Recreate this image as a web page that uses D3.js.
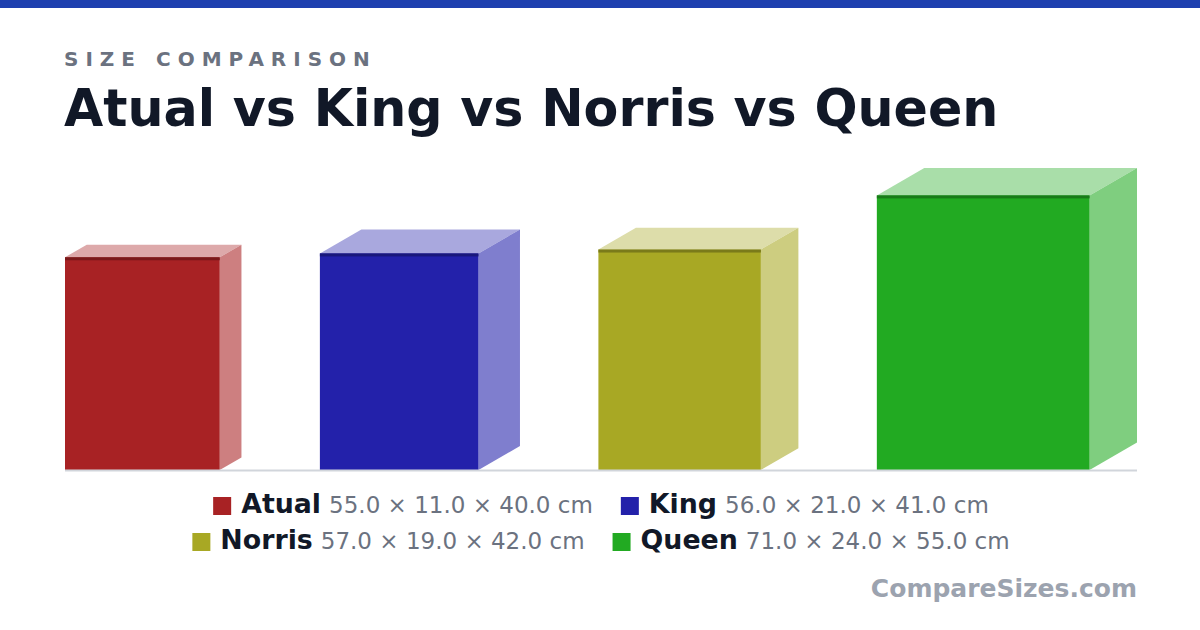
<!DOCTYPE html>
<html>
<head>
<meta charset="utf-8">
<script src="https://cdn.jsdelivr.net/npm/d3@7"></script>
<style>
  html, body { margin: 0; padding: 0; background: #fff; }
  svg { display: block; font-family: "DejaVu Sans", sans-serif; }
</style>
</head>
<body>
<div id="chart"></div>
<script>
// sizes in cm, as listed: height × depth × width
const names = ["Atual", "King", "Norris", "Queen"];
const heights = [55, 56, 57, 71];
const depths = [11, 21, 19, 24];
const widths = [40, 41, 42, 55];
const colors = ["#a82224", "#2321aa", "#a8a824", "#22aa22"];

const width = 1200, height = 630;
const margin = ({top: 168, right: 63, bottom: 160, left: 65});
const baseY = height - margin.bottom;          // 470
const depthK = 0.59, ang = Math.PI / 6;        // oblique depth projection

const svg = d3.select("#chart")
  .append("svg")
  .attr("width", width)
  .attr("height", height)
  .attr("viewBox", [0, 0, width, height]);

// top banner
svg.append("rect")
  .attr("x", 0).attr("y", 0)
  .attr("width", width).attr("height", 8)
  .attr("fill", "#1e40af");

svg.append("text")
  .attr("x", 64).attr("y", 66)
  .attr("font-size", 20)
  .attr("font-weight", "bold")
  .attr("letter-spacing", 7)
  .attr("fill", "#6b7280")
  .text("SIZE COMPARISON");

svg.append("text")
  .attr("x", 64).attr("y", 126)
  .attr("font-size", 50.7)
  .attr("font-weight", "bold")
  .attr("fill", "#111827")
  .text(names.join(" vs "));

// px per cm, fitted so the tallest box (incl. its depth) fills the plot
const data = names.map((n, i) => ({name: n, h: heights[i], d: depths[i], w: widths[i], color: colors[i]}));
const s = d3.scaleLinear()
  .domain([0, d3.max(data, d => d.h + d.d * depthK * Math.sin(ang))])
  .range([0, baseY - margin.top]);

const plotW = width - margin.left - margin.right;
const used = d3.sum(data, d => s(d.w) + s(d.d) * depthK * Math.cos(ang));
const gap = (plotW - used) / (data.length - 1);

let cx = margin.left;
data.forEach(d => {
  d.x = cx;
  d.fw = s(d.w);
  d.fh = s(d.h);
  d.dx = s(d.d) * depthK * Math.cos(ang);
  d.dy = s(d.d) * depthK * Math.sin(ang);
  cx += d.fw + d.dx + gap;
});

const boxes = svg.append("g")
  .selectAll("g")
  .data(data)
  .join("g");

// top face
boxes.append("path")
  .attr("fill", d => d3.interpolateRgb(d.color, "#fff")(0.61))
  .attr("d", d => {
    const y0 = baseY - d.fh;
    return `M${d.x},${y0}L${d.x + d.dx},${y0 - d.dy}L${d.x + d.fw + d.dx},${y0 - d.dy}L${d.x + d.fw},${y0}Z`;
  });

// side face
boxes.append("path")
  .attr("fill", d => d3.interpolateRgb(d.color, "#fff")(0.42))
  .attr("d", d => {
    const x0 = d.x + d.fw, y0 = baseY - d.fh;
    return `M${x0},${y0}L${x0 + d.dx},${y0 - d.dy}L${x0 + d.dx},${baseY - d.dy}L${x0},${baseY}Z`;
  });

// front face
boxes.append("rect")
  .attr("x", d => d.x)
  .attr("y", d => baseY - d.fh)
  .attr("width", d => d.fw)
  .attr("height", d => d.fh)
  .attr("fill", d => d.color);

// darker top edge
boxes.append("rect")
  .attr("x", d => d.x)
  .attr("y", d => baseY - d.fh)
  .attr("width", d => d.fw)
  .attr("height", 3)
  .attr("fill", d => d3.color(d.color).darker(0.9));

// baseline
svg.append("line")
  .attr("x1", margin.left).attr("x2", width - margin.right)
  .attr("y1", baseY + 0.5).attr("y2", baseY + 0.5)
  .attr("stroke", "#d1d5db")
  .attr("stroke-width", 2);

// legend, two per row, centred
const fmt = d3.format(".1f");
const rows = [data.slice(0, 2), data.slice(2, 4)];
const rowY = [513, 549];
const centerX = (margin.left + width - margin.right) / 2;

rows.forEach((row, r) => {
  const g = svg.append("g");
  let x = 0;
  row.forEach((d, i) => {
    if (i > 0) x += 28;
    g.append("rect")
      .attr("x", x).attr("y", rowY[r] - 16)
      .attr("width", 18).attr("height", 18)
      .attr("fill", d.color);
    x += 28;
    const t1 = g.append("text")
      .attr("x", x).attr("y", rowY[r])
      .attr("font-size", 26.8)
      .attr("font-weight", "bold")
      .attr("fill", "#111827")
      .text(d.name);
    x += t1.node().getComputedTextLength() + 8;
    const t2 = g.append("text")
      .attr("x", x).attr("y", rowY[r])
      .attr("font-size", 23)
      .attr("fill", "#6b7280")
      .text(`${fmt(d.h)} × ${fmt(d.d)} × ${fmt(d.w)} cm`);
    x += t2.node().getComputedTextLength();
  });
  g.attr("transform", `translate(${centerX - x / 2},0)`);
});

svg.append("text")
  .attr("x", width - margin.right).attr("y", 597)
  .attr("text-anchor", "end")
  .attr("font-size", 25)
  .attr("font-weight", "bold")
  .attr("fill", "#9ca3af")
  .text("CompareSizes.com");
</script>
</body>
</html>
